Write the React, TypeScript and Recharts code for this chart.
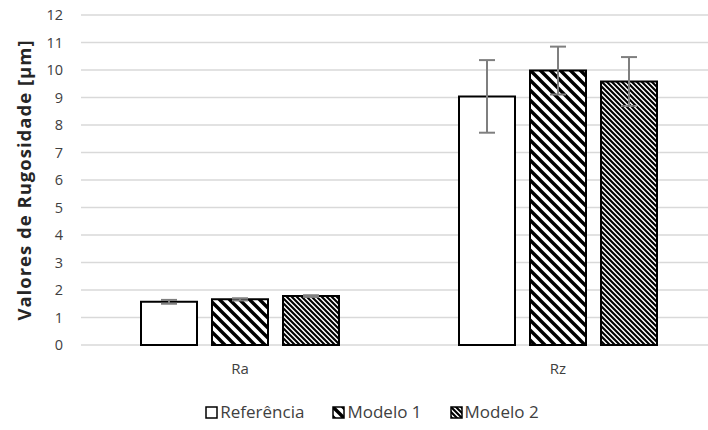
import { Bar, BarChart, CartesianGrid, ErrorBar, XAxis, YAxis } from 'recharts'

// Rugosidade Ra / Rz — três séries com padrões de hachura estilo Excel

const categories = ['Ra', 'Rz']
const referencia = [1.57, 9.04]
const modelo1 = [1.66, 9.98]
const modelo2 = [1.78, 9.58]
const referenciaErr = [0.07, 1.32]
const modelo1Err = [0.04, 0.87]
const modelo2Err = [0.03, 0.89]
const yTicks = [0, 1, 2, 3, 4, 5, 6, 7, 8, 9, 10, 11, 12]

const seriesNames = ['Referência', 'Modelo 1', 'Modelo 2']
const fills = ['#ffffff', 'url(#hatchWide)', 'url(#hatchDense)']

// obs: não usar "ref" como chave — o recharts repassa pro elemento e o React reclama
const data = categories.map((c, i) => ({
  name: c,
  sRef: referencia[i],
  sM1: modelo1[i],
  sM2: modelo2[i],
  eRef: referenciaErr[i],
  eM1: modelo1Err[i],
  eM2: modelo2Err[i],
}))

const FONT = '"Open Sans", sans-serif'

function Patterns() {
  return (
    <svg width={0} height={0} style={{ position: 'absolute' }}>
      <defs>
        <pattern id="hatchWide" patternUnits="userSpaceOnUse" width={10} height={10}>
          <rect width={10} height={10} fill="#fff" />
          <path d="M-5,5 L5,15 M0,0 L10,10 M5,-5 L15,5" stroke="#000" strokeWidth={3.4} />
        </pattern>
        <pattern id="hatchDense" patternUnits="userSpaceOnUse" width={5} height={5}>
          <rect width={5} height={5} fill="#fff" />
          <path d="M-2.5,2.5 L2.5,7.5 M0,0 L5,5 M2.5,-2.5 L7.5,2.5" stroke="#000" strokeWidth={2.1} />
        </pattern>
      </defs>
    </svg>
  )
}

// legenda fora do gráfico pra não roubar altura da área de plotagem
function ChartLegend() {
  return (
    <div
      style={{
        position: 'absolute',
        top: 401,
        left: 18,
        width: 708,
        display: 'flex',
        justifyContent: 'center',
        fontFamily: FONT,
        fontSize: 17,
        color: '#404040',
        lineHeight: '22px',
      }}
    >
      {seriesNames.map((n, i) => (
        <div key={n} style={{ display: 'flex', alignItems: 'center', marginRight: i < 2 ? 28 : 0 }}>
          <svg width={13} height={13} style={{ marginRight: 2 }}>
            <rect x={1} y={1} width={11} height={11} fill={fills[i]} stroke="#000" strokeWidth={1.5} />
          </svg>
          <span>{n}</span>
        </div>
      ))}
    </div>
  )
}

export default function App() {
  return (
    <div style={{ position: 'absolute', left: 0, top: 0, width: 708, height: 430, overflow: 'hidden', background: '#fff' }}>
      <Patterns />
      <BarChart
        width={717}
        height={430}
        data={data}
        margin={{ top: 15, right: 0, left: 0, bottom: 0 }}
        barSize={56}
        barGap={15}
      >
        <CartesianGrid vertical={false} stroke="#d9d9d9" strokeWidth={1.5} />
        <XAxis
          dataKey="name"
          axisLine={false}
          tickLine={false}
          tickMargin={12}
          height={85}
          tick={{ fontFamily: FONT, fontSize: 15, fill: '#404040' }}
        />
        <YAxis
          width={81}
          domain={[0, 12]}
          ticks={yTicks}
          interval={0}
          axisLine={false}
          tickLine={false}
          tickMargin={12}
          tick={{ fontFamily: FONT, fontSize: 14.5, fill: '#404040' }}
          label={{
            value: 'Valores de Rugosidade [µm]',
            angle: -90,
            position: 'insideLeft',
            offset: 24,
            style: {
              textAnchor: 'middle',
              fontFamily: FONT,
              fontSize: 18.5,
              letterSpacing: 1,
              fontWeight: 700,
              fill: '#262626',
            },
          }}
        />
        <Bar dataKey="sRef" name={seriesNames[0]} fill={fills[0]} stroke="#000" strokeWidth={2} isAnimationActive={false}>
          <ErrorBar dataKey="eRef" width={8} stroke="#7f7f7f" strokeWidth={2} />
        </Bar>
        <Bar dataKey="sM1" name={seriesNames[1]} fill={fills[1]} stroke="#000" strokeWidth={2} isAnimationActive={false}>
          <ErrorBar dataKey="eM1" width={8} stroke="#7f7f7f" strokeWidth={2} />
        </Bar>
        <Bar dataKey="sM2" name={seriesNames[2]} fill={fills[2]} stroke="#000" strokeWidth={2} isAnimationActive={false}>
          <ErrorBar dataKey="eM2" width={8} stroke="#7f7f7f" strokeWidth={2} />
        </Bar>
      </BarChart>
      <ChartLegend />
    </div>
  )
}
